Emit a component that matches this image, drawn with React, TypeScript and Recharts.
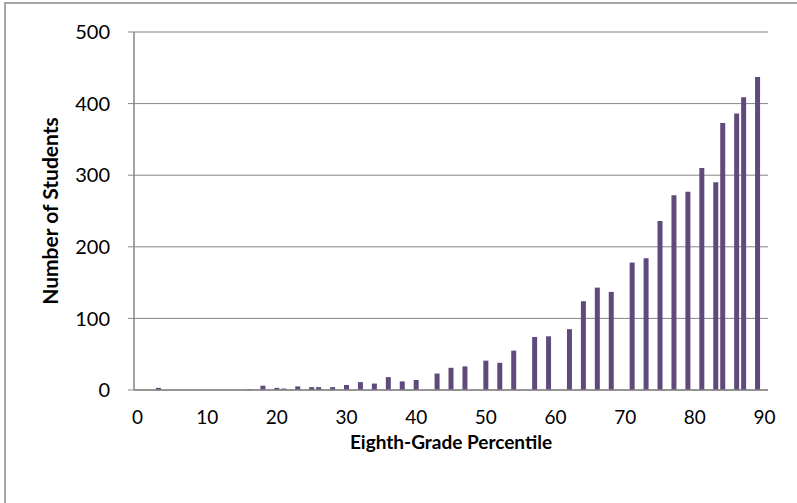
import { BarChart, Bar, XAxis, YAxis, CartesianGrid, Label } from 'recharts'

// percentile -> number of students
const percentiles = [3, 16, 18, 20, 21, 23, 25, 26, 28, 30, 32, 34, 36, 38, 40, 43, 45, 47, 50, 52, 54, 57, 59, 62, 64, 66, 68, 71, 73, 75, 77, 79, 81, 83, 84, 86, 87, 89]
const students = [3, 1, 6, 3, 2, 5, 4, 4, 4, 7, 11, 9, 18, 12, 14, 23, 31, 33, 41, 38, 55, 74, 75, 85, 124, 143, 137, 178, 184, 236, 272, 277, 310, 290, 373, 386, 409, 437]
const xTicks = [0, 10, 20, 30, 40, 50, 60, 70, 80, 90]
const yTicks = [0, 100, 200, 300, 400, 500]

const FONT = 'Lato, "Open Sans", sans-serif'
const AXIS = '#868686'

// one category per percentile 0..90, empty where there is no bar
const categories = Array.from({ length: 91 }, (_, i) => i)
const data = categories.map(p => {
  const idx = percentiles.indexOf(p)
  return { p, n: idx >= 0 ? students[idx] : null }
})

export default function App() {
  return (
    <div style={{ position: 'absolute', left: 0, top: 0, width: 797, height: 503, overflow: 'hidden', background: '#fff' }}>
      <div style={{ position: 'absolute', left: 4, top: 2, width: 820, height: 520, border: '2px solid #a6a6a6' }} />
      <BarChart
        width={797}
        height={503}
        data={data}
        margin={{ top: 32, right: 29, bottom: 53, left: 0 }}
        barSize={5}
        style={{ fontFamily: FONT }}
      >
        <CartesianGrid vertical={false} stroke={AXIS} strokeWidth={1} />
        <XAxis
          dataKey="p"
          type="category"
          ticks={xTicks}
          interval={0}
          height={60}
          tickLine={false}
          tickSize={0}
          tickMargin={21}
          axisLine={{ stroke: AXIS, strokeWidth: 1.5 }}
          tick={{ fill: '#000', fontSize: 19, fontFamily: FONT }}
        >
          <Label
            value="Eighth-Grade Percentile"
            position="insideBottom"
            offset={1}
            style={{ fill: '#000', fontSize: 19, fontWeight: 700, fontFamily: FONT }}
          />
        </XAxis>
        <YAxis
          width={134}
          domain={[0, 500]}
          ticks={yTicks}
          tickSize={6}
          tickMargin={18}
          tickLine={{ stroke: AXIS }}
          axisLine={{ stroke: AXIS, strokeWidth: 1.5 }}
          tick={{ fill: '#000', fontSize: 20, fontFamily: FONT }}
        >
          <Label
            content={({ viewBox }: any) => {
              const cy = viewBox.y + viewBox.height / 2
              return (
                <text
                  x={49}
                  y={cy}
                  transform={`rotate(-90 49 ${cy})`}
                  textAnchor="middle"
                  dominantBaseline="central"
                  style={{ fill: '#000', fontSize: 21, fontWeight: 700, fontFamily: FONT }}
                >
                  Number of Students
                </text>
              )
            }}
          />
        </YAxis>
        <Bar dataKey="n" fill="#604A7B" isAnimationActive={false} />
      </BarChart>
    </div>
  )
}
